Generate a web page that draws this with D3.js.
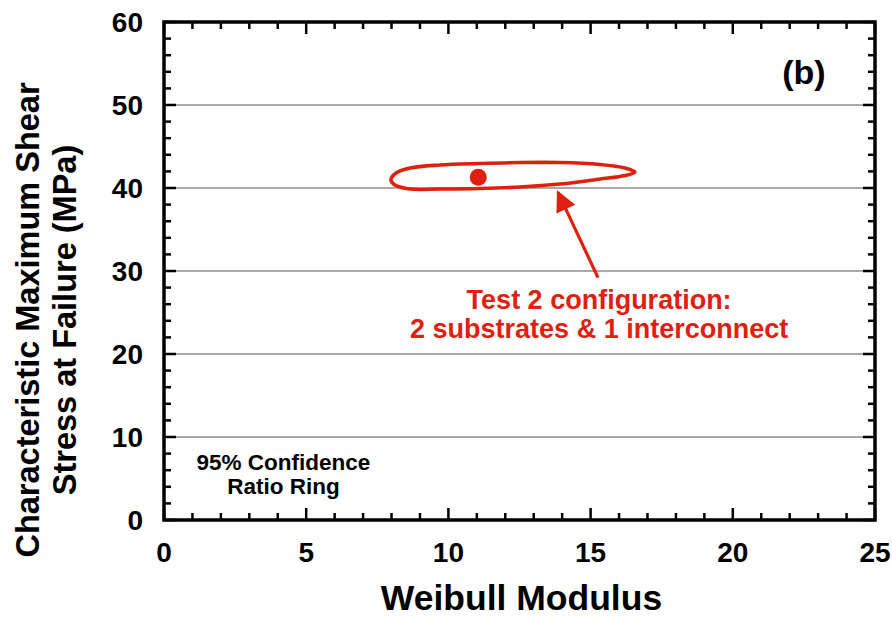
<!DOCTYPE html>
<html>
<head>
<meta charset="utf-8">
<script src="https://cdn.jsdelivr.net/npm/d3@7"></script>
<style>
  body { margin: 0; background: #fff; }
  svg text { font-family: "Liberation Sans", Arial, Helvetica, sans-serif; font-weight: bold; }
</style>
</head>
<body>
<div id="chart"></div>
<script>
// axis ticks
const xTicks = [0, 5, 10, 15, 20, 25];
const yTicks = [0, 10, 20, 30, 40, 50, 60];
const gridValues = [10, 20, 30, 40, 50];

// 95% confidence ratio ring (Weibull modulus, characteristic stress)
const ringM = [7.98, 8.16, 8.65, 9.70, 11.11, 12.52, 13.92, 15.33, 16.21, 16.56,
               16.21, 15.33, 13.92, 12.52, 11.11, 9.70, 8.65, 8.12];
const ringS = [40.96, 41.81, 42.41, 42.77, 42.95, 43.07, 43.07, 42.83, 42.41, 41.93,
               41.51, 41.08, 40.48, 40.12, 39.94, 39.88, 39.88, 40.36];

// point estimate
const pointM = [11.05];
const pointS = [41.3];

// annotation arrow (from label to ring)
const arrowM = [15.26, 13.85];
const arrowS = [29.2, 39.5];

const labelLines = ["Test 2 configuration:", "2 substrates & 1 interconnect"];
const ringLabel = ["95% Confidence", "Ratio Ring"];

const red = "#e0200e";

const W = 892, H = 618;
const margin = { top: 22, right: 17, bottom: 98, left: 164 };

const svg = d3.select("#chart").append("svg")
  .attr("width", W).attr("height", H);

const x = d3.scaleLinear().domain([0, 25]).range([margin.left, W - margin.right]);
const y = d3.scaleLinear().domain([0, 60]).range([H - margin.bottom, margin.top]);

// gridlines
svg.append("g").selectAll("line").data(gridValues).join("line")
  .attr("x1", x(0)).attr("x2", x(25))
  .attr("y1", d => y(d)).attr("y2", d => y(d))
  .attr("stroke", "#8c8c8c").attr("stroke-width", 1.6);

// inward ticks on all four sides
const xMinor = d3.range(0, 25.01, 1).filter(v => v % 5 !== 0);
const yMinor = d3.range(0, 60.01, 2).filter(v => v % 10 !== 0);
const major = 12, minor = 7;
const tg = svg.append("g").attr("stroke", "#000").attr("stroke-width", 2.5);
function xt(vals, len) {
  vals.forEach(v => {
    tg.append("line").attr("x1", x(v)).attr("x2", x(v)).attr("y1", y(0)).attr("y2", y(0) - len);
    tg.append("line").attr("x1", x(v)).attr("x2", x(v)).attr("y1", y(60)).attr("y2", y(60) + len);
  });
}
function yt(vals, len) {
  vals.forEach(v => {
    tg.append("line").attr("y1", y(v)).attr("y2", y(v)).attr("x1", x(0)).attr("x2", x(0) + len);
    tg.append("line").attr("y1", y(v)).attr("y2", y(v)).attr("x1", x(25)).attr("x2", x(25) - len);
  });
}
xt(xTicks, major); xt(xMinor, minor);
yt(yTicks, major); yt(yMinor, minor);

// frame
svg.append("rect")
  .attr("x", x(0)).attr("y", y(60))
  .attr("width", x(25) - x(0)).attr("height", y(0) - y(60))
  .attr("fill", "none").attr("stroke", "#000").attr("stroke-width", 3.5);

// tick labels
svg.append("g").selectAll("text").data(xTicks).join("text")
  .attr("x", d => x(d)).attr("y", y(0) + 42)
  .attr("text-anchor", "middle").attr("font-size", 28)
  .text(d => d);
svg.append("g").selectAll("text").data(yTicks).join("text")
  .attr("x", x(0) - 21).attr("y", d => y(d) + 10)
  .attr("text-anchor", "end").attr("font-size", 28)
  .text(d => d);

// axis titles
svg.append("text")
  .attr("x", (x(0) + x(25)) / 2 + 2).attr("y", 610)
  .attr("text-anchor", "middle").attr("font-size", 35.5)
  .text("Weibull Modulus");
const yTitle = svg.append("text")
  .attr("transform", "translate(0," + 320 + ") rotate(-90)")
  .attr("text-anchor", "middle").attr("font-size", 32.5);
yTitle.append("tspan").attr("x", 0).attr("y", 39).text("Characteristic Maximum Shear");
yTitle.append("tspan").attr("x", 0).attr("y", 76).text("Stress at Failure (MPa)");

// panel label
svg.append("text")
  .attr("x", x(22.5)).attr("y", y(52.5))
  .attr("text-anchor", "middle").attr("font-size", 34)
  .text("(b)");

// ring
const ringPts = ringM.map((m, i) => [x(m), y(ringS[i])]);
svg.append("path")
  .attr("d", d3.line().curve(d3.curveCatmullRomClosed.alpha(0.5))(ringPts))
  .attr("fill", "none").attr("stroke", red).attr("stroke-width", 3.6);

// point estimate
svg.append("g").selectAll("circle").data(pointM).join("circle")
  .attr("cx", d => x(d)).attr("cy", (d, i) => y(pointS[i]))
  .attr("r", 8.5).attr("fill", red);

// arrow
svg.append("defs").append("marker")
  .attr("id", "ah").attr("viewBox", "0 0 10 10")
  .attr("refX", 9).attr("refY", 5)
  .attr("markerWidth", 8).attr("markerHeight", 6.5)
  .attr("markerUnits", "strokeWidth")
  .attr("orient", "auto")
  .append("path").attr("d", "M0,0 L10,5 L0,10 Z").attr("fill", red);
svg.append("line")
  .attr("x1", x(arrowM[0])).attr("y1", y(arrowS[0]))
  .attr("x2", x(arrowM[1])).attr("y2", y(arrowS[1]))
  .attr("stroke", red).attr("stroke-width", 3.2)
  .attr("marker-end", "url(#ah)");

// annotation text
svg.append("g").selectAll("text").data(labelLines).join("text")
  .attr("x", x(15.3)).attr("y", (d, i) => 309 + i * 29)
  .attr("text-anchor", "middle").attr("font-size", 27)
  .attr("fill", red)
  .text(d => d);

svg.append("g").selectAll("text").data(ringLabel).join("text")
  .attr("x", x(4.2)).attr("y", (d, i) => 470 + i * 24)
  .attr("text-anchor", "middle").attr("font-size", 22.5)
  .text(d => d);
</script>
</body>
</html>
